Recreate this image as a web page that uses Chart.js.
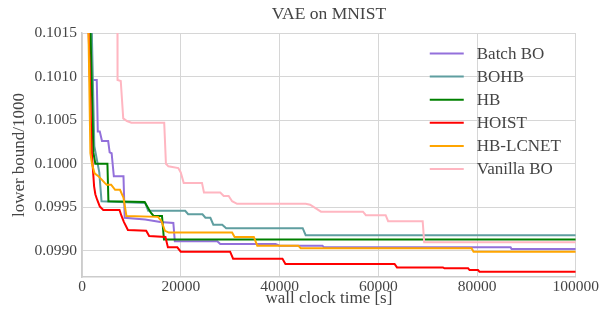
<!DOCTYPE html>
<html>
<head>
<meta charset="utf-8">
<script src="https://cdn.jsdelivr.net/npm/chart.js@4"></script>
<style>
  html, body { margin: 0; padding: 0; background: #fff; }
  #box { width: 600px; height: 309px; }
</style>
</head>
<body>
<div id="box"><canvas id="vaeChart"></canvas></div>
<script>
// tick labels
var xTicks = [0, 20000, 40000, 60000, 80000, 100000];
var yTicks = [0.0990, 0.0995, 0.1000, 0.1005, 0.1010, 0.1015];

// Batch BO
var batchBoTime = [1850, 1950, 2990, 3200, 3600, 4050, 5300, 5600, 6000, 6450, 8400, 8650, 12800, 15850, 18500, 18800, 27400, 28000, 39200, 40000, 48700, 49000, 86800, 87000, 100000];
var batchBoBound = [0.1030, 0.10096, 0.10096, 0.10037, 0.10037, 0.10026, 0.10026, 0.10013, 0.10012, 0.099855, 0.099855, 0.09938, 0.09936, 0.09933, 0.09932, 0.09911, 0.09911, 0.09908, 0.09908, 0.09906, 0.09906, 0.09904, 0.09904, 0.09902, 0.09902];

// BOHB
var bohbTime = [1400, 2500, 3500, 3950, 12800, 13400, 20900, 21500, 24400, 25000, 26000, 26600, 28400, 29200, 44700, 45300, 100000];
var bohbBound = [0.1030, 0.1002, 0.09990, 0.09957, 0.09955, 0.09946, 0.09946, 0.09942, 0.09942, 0.09938, 0.09938, 0.09930, 0.09930, 0.09926, 0.09926, 0.09918, 0.09918];

// HB
var hbTime = [1100, 2300, 2700, 5150, 5350, 12700, 13300, 13900, 14500, 16200, 16600, 100000];
var hbBound = [0.1030, 0.10013, 0.10000, 0.10000, 0.09957, 0.09956, 0.09950, 0.09944, 0.09940, 0.09940, 0.09913, 0.09913];

// HOIST
var hoistTime = [1100, 1500, 1950, 2450, 2700, 3050, 3600, 4300, 7600, 8000, 8500, 9300, 13000, 13600, 16900, 17400, 19300, 20000, 30000, 30600, 40600, 41200, 63300, 63800, 73100, 73400, 78200, 78500, 80200, 80500, 100000];
var hoistBound = [0.1020, 0.1012, 0.10015, 0.09974, 0.09965, 0.09959, 0.09951, 0.09947, 0.09947, 0.09940, 0.09933, 0.09924, 0.09923, 0.09917, 0.09916, 0.09904, 0.09904, 0.09899, 0.09899, 0.09891, 0.09891, 0.09885, 0.09885, 0.09881, 0.09881, 0.09880, 0.09880, 0.09878, 0.09878, 0.09876, 0.09876];

// HB-LCNET
var lcnetTime = [900, 1700, 2050, 2550, 3250, 3950, 4600, 5000, 5900, 6700, 7700, 8400, 9000, 15400, 16100, 16800, 17600, 30400, 30900, 34800, 35500, 43800, 44300, 78900, 79300, 100000];
var lcnetBound = [0.1030, 0.10012, 0.09999, 0.09989, 0.09986, 0.09982, 0.09978, 0.09976, 0.09976, 0.09970, 0.09970, 0.09961, 0.09940, 0.09939, 0.09934, 0.09923, 0.09921, 0.09921, 0.09916, 0.09916, 0.09906, 0.09906, 0.09903, 0.09903, 0.09899, 0.09899];

// Vanilla BO
var vanillaTime = [7150, 7200, 7850, 8350, 9100, 10000, 16650, 17000, 17500, 19500, 20000, 20600, 24300, 24700, 28000, 28700, 29700, 30400, 31400, 45300, 46200, 48400, 56900, 57500, 61500, 62000, 69000, 69300, 100000];
var vanillaBound = [0.1025, 0.10096, 0.10095, 0.10052, 0.10049, 0.10047, 0.10047, 0.10000, 0.09997, 0.09995, 0.09990, 0.09978, 0.09978, 0.09967, 0.09967, 0.09963, 0.09963, 0.09957, 0.09954, 0.09954, 0.09953, 0.09945, 0.09945, 0.09941, 0.09941, 0.09934, 0.09934, 0.09910, 0.09910];

var serif = "'Liberation Serif', 'Times New Roman', serif";
var textColor = '#444444';

function toPoints(times, values) {
    var pts = [];
    for (var i = 0; i < times.length; i++) {
        pts.push({ x: times[i], y: values[i] });
    }
    return pts;
}

function makeSet(label, times, values, color, order) {
    return {
        label: label,
        data: toPoints(times, values),
        borderColor: color,
        backgroundColor: color,
        borderWidth: 2,
        pointRadius: 0,
        tension: 0,
        fill: false,
        order: order
    };
}

// legend drawn inside the plot, top right, without a frame
var innerLegend = {
    id: 'innerLegend',
    afterDatasetsDraw: function (chart) {
        var ctx = chart.ctx;
        var area = chart.chartArea;
        var sets = chart.data.datasets;
        ctx.save();
        ctx.font = '17px ' + serif;
        ctx.textBaseline = 'middle';
        for (var i = 0; i < sets.length; i++) {
            var y = area.top + 20.5 + i * 23.1;
            ctx.strokeStyle = sets[i].borderColor;
            ctx.lineWidth = 2;
            ctx.beginPath();
            ctx.moveTo(area.right - 146, y);
            ctx.lineTo(area.right - 112, y);
            ctx.stroke();
            ctx.fillStyle = textColor;
            ctx.fillText(sets[i].label, area.right - 99, y + 1);
        }
        ctx.restore();
    }
};

var chart = new Chart(document.getElementById('vaeChart').getContext('2d'), {
    type: 'line',
    data: {
        datasets: [
            makeSet('Batch BO', batchBoTime, batchBoBound, '#9370db', 5),
            makeSet('BOHB', bohbTime, bohbBound, '#5f9ea0', 4),
            makeSet('HB', hbTime, hbBound, '#008000', 3),
            makeSet('HOIST', hoistTime, hoistBound, '#ff0000', 2),
            makeSet('HB-LCNET', lcnetTime, lcnetBound, '#ffa500', 1),
            makeSet('Vanilla BO', vanillaTime, vanillaBound, '#ffb6c1', 0)
        ]
    },
    options: {
        responsive: true,
        maintainAspectRatio: false,
        animation: false,
        layout: { padding: 0 },
        plugins: {
            legend: { display: false },
            tooltip: { enabled: false },
            title: {
                display: true,
                fullSize: false,
                text: 'VAE on MNIST',
                color: textColor,
                font: { family: serif, size: 17.5, weight: 'normal' },
                padding: { top: 4, bottom: 8 }
            }
        },
        scales: {
            x: {
                type: 'linear',
                min: 0,
                max: 100000,
                afterBuildTicks: function (scale) {
                    scale.ticks = xTicks.map(function (v) { return { value: v }; });
                },
                afterFit: function (scale) { scale.height = 32; },
                ticks: {
                    color: textColor,
                    font: { family: serif, size: 15.5 },
                    padding: 1,
                    maxRotation: 0,
                    callback: function (v) { return String(v); }
                },
                grid: { color: '#d6d6d6', lineWidth: 1, drawTicks: false },
                border: { color: '#cccccc', width: 1.5 },
                title: {
                    display: true,
                    text: 'wall clock time [s]',
                    color: textColor,
                    font: { family: serif, size: 17, lineHeight: 1 },
                    padding: { top: 0, bottom: 1.5 }
                }
            },
            y: {
                min: 0.0987,
                max: 0.1015,
                afterBuildTicks: function (scale) {
                    scale.ticks = yTicks.map(function (v) { return { value: v }; });
                },
                afterFit: function (scale) { scale.width = 82; },
                ticks: {
                    color: textColor,
                    font: { family: serif, size: 15.5 },
                    padding: 5,
                    callback: function (v) { return v.toFixed(4); }
                },
                grid: { color: '#d6d6d6', lineWidth: 1, drawTicks: false },
                border: { color: '#cccccc', width: 1.5 },
                title: {
                    display: true,
                    text: 'lower bound/1000',
                    color: textColor,
                    font: { family: serif, size: 17, lineHeight: 1 },
                    padding: { top: 11.5, bottom: 0 }
                }
            }
        }
    },
    plugins: [innerLegend]
});
</script>
</body>
</html>
